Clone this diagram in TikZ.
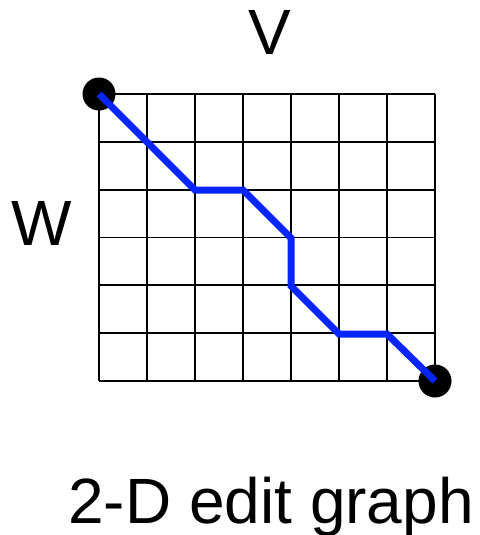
\documentclass[tikz,border=0pt]{standalone}
\usepackage{fontspec}
\setmainfont{Liberation Sans}
\usepackage{xcolor}
\usepackage{tikz}
\definecolor{pathblue}{RGB}{8,36,255}
\tikzset{
  gridline/.style={black,line width=1.8pt},
  alignpath/.style={pathblue,line width=7pt,line join=miter},
  enddot/.style={shape=circle,fill=black,minimum size=33pt,inner sep=0pt},
  biglabel/.style={anchor=base,inner sep=0pt,font=\fontsize{64}{70}\selectfont}
}
\begin{document}
\begin{tikzpicture}[x=1pt,y=-1pt]
\useasboundingbox (0,0) rectangle (479,535);
% grid of the edit graph
\foreach \i in {0,...,7}
  \draw[gridline] (99+48*\i,94)--(99+48*\i,381);
\foreach \j in {0,...,6}
  \draw[gridline] (99,94+47.83*\j)--(435,94+47.83*\j);
\coordinate (p1) at (195,190);
\coordinate (p2) at (243,190);
\coordinate (p3) at (291,238);
\coordinate (p4) at (291,286);
\coordinate (p5) at (339,334);
\coordinate (p6) at (387,334);
\node[enddot] (start) at (99,94) {};
\node[enddot] (finish) at (435,381) {};
\draw[alignpath] (start.center)--(p1)--(p2)--(p3)--(p4)--(p5)--(p6)--(finish.center);
\node[biglabel] (v) at (270,55) {V};
\node[biglabel] (w) at (42,245) {W};
\node[biglabel] (title) at (271,523) {2-D edit graph};
\end{tikzpicture}
\end{document}
